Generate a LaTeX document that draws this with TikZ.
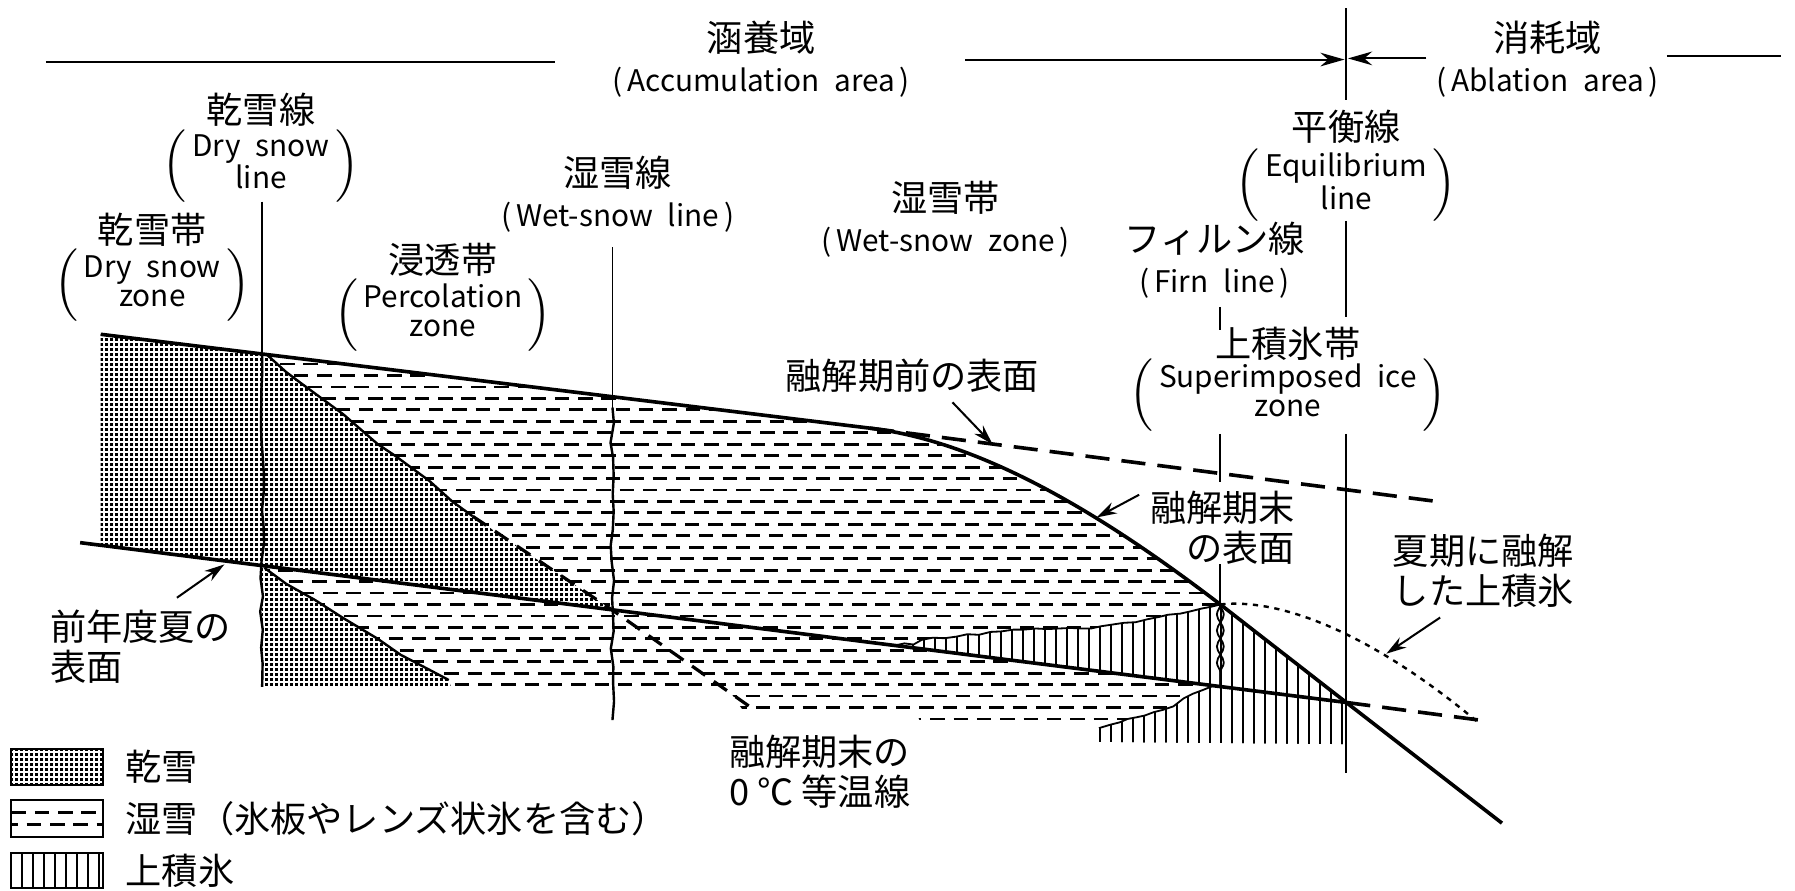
\documentclass[tikz,border=0pt]{standalone}
\usepackage{fontspec}
\setmainfont{Noto Sans CJK JP}
\usetikzlibrary{arrows.meta,patterns,decorations.pathmorphing}

% fine dot grid for dry snow
\pgfdeclarepatternformonly{drysnow}{\pgfqpoint{-0.1pt}{-0.1pt}}{\pgfqpoint{1.35pt}{1.35pt}}{\pgfqpoint{1.2427pt}{1.2427pt}}%
{\pgfpathrectangle{\pgfpointorigin}{\pgfqpoint{0.68pt}{0.68pt}}\pgfusepath{fill}}
% vertical rules for superimposed ice
\pgfdeclarepatternformonly{superice}{\pgfqpoint{-0.5pt}{-0.5pt}}{\pgfqpoint{0.5pt}{1.5pt}}{\pgfqpoint{2.733pt}{1pt}}%
{\pgfsetlinewidth{0.5pt}\pgfpathmoveto{\pgfqpoint{0pt}{-0.5pt}}\pgfpathlineto{\pgfqpoint{0pt}{1.5pt}}\pgfusepath{stroke}}

\newcommand{\en}[1]{{\fontsize{7.4}{9}\selectfont #1}}
\newcommand{\parenblock}[2]{{\fontsize{7.4}{9}\selectfont$\left(\,\begin{tabular}{@{}c@{}}#1\\#2\end{tabular}\,\right)$}}
\renewcommand{\arraystretch}{0.8}

\tikzset{
  lbl/.style={font=\fontsize{9}{10}\selectfont, inner sep=0pt, align=center},
  surface/.style={line width=0.9pt},
  zoneline/.style={line width=0.45pt},
  rough/.style={line width=0.6pt},
  oldsurf/.style={line width=0.9pt, dash pattern=on 6pt off 3pt},
  isotherm/.style={line width=0.8pt, dash pattern=on 4pt off 2.6pt},
  meltedice/.style={line width=0.6pt, dash pattern=on 1.3pt off 1.4pt},
  wetrow/.style={line width=0.7pt, dash pattern=on 3.6pt off 2.2pt},
  callout/.style={line width=0.5pt, -{Stealth[length=5pt,width=3pt]}},
  areaarrow/.style={line width=0.5pt, -{Stealth[length=6pt,width=3.4pt]}},
  keybox/.style={line width=0.5pt},
}

\begin{document}
\begin{tikzpicture}[x=1cm,y=-1cm]
\useasboundingbox (0,0) rectangle (15.68,7.78);
\pgfmathsetseed{11}

% points on the surfaces
\coordinate (s0) at (0.88,2.92);
\coordinate (sbend) at (7.60,3.74);
\coordinate (firnpt) at (10.66,5.28);
\coordinate (eqpt) at (11.76,6.136);
\coordinate (send) at (13.12,7.19);
\coordinate (b0) at (0.70,4.74);
\coordinate (bend) at (13.00,6.30);

% dry snow
\fill[pattern=drysnow] (s0) -- (2.33,3.097) -- (2.50,3.25) -- (2.62,3.34) -- (3.00,3.62) -- (3.30,3.88) -- (3.45,3.98) -- (3.75,4.20) -- (3.95,4.38) -- (4.13,4.51) -- (5.35,5.33) -- (0.88,4.763) -- cycle;
\fill[pattern=drysnow] (2.29,4.94) -- (2.31,4.96) -- (2.50,5.10) -- (2.75,5.24) -- (3.00,5.40) -- (3.30,5.58) -- (3.50,5.72) -- (3.75,5.85) -- (3.92,5.94) -- (3.94,6.00) -- (2.29,6.00) -- cycle;

% wet snow, this year
\begin{scope}
  \clip (2.33,3.097) -- (sbend) .. controls (8.60,3.86) and (9.66,4.515) .. (firnpt) -- (10.66,6.00) -- (5.35,5.33) -- (4.13,4.51) -- (3.95,4.38) -- (3.75,4.20) -- (3.45,3.98) -- (3.30,3.88) -- (3.00,3.62) -- (2.62,3.34) -- (2.50,3.25) -- cycle;
  \foreach \i [evaluate=\i as \ph using {mod(\i*23,57)/10}] in {0,...,34}
    \draw[wetrow, dash phase=\ph pt] (2.2,{2.98+0.1*\i}) -- (10.8,{2.98+0.1*\i});
\end{scope}
% wet snow, last year
\begin{scope}
  \clip (2.29,4.94) -- (10.66,6.00) -- (10.66,6.33) -- (8.05,6.33) -- (8.00,6.22) -- (6.50,6.22) -- (6.35,6.00) -- (3.94,6.00) -- (3.92,5.94) -- (3.75,5.85) -- (3.50,5.72) -- (3.30,5.58) -- (3.00,5.40) -- (2.75,5.24) -- (2.50,5.10) -- (2.31,4.96) -- cycle;
  \foreach \i [evaluate=\i as \ph using {mod(\i*31,57)/10}] in {0,...,34}
    \draw[wetrow, dash phase=\ph pt] (2.2,{2.98+0.1*\i}) -- (10.8,{2.98+0.1*\i});
\end{scope}

% superimposed ice
\path[preaction={fill=white}, pattern=superice, draw, line width=0.45pt] (7.81,5.64) -- (7.90,5.62) -- (7.98,5.63) -- (8.05,5.59) -- (8.15,5.57) -- (8.25,5.575) -- (8.36,5.56) -- (8.45,5.54) -- (8.55,5.545) -- (8.65,5.52) -- (8.75,5.515) -- (8.85,5.50) -- (8.94,5.50) -- (9.05,5.49) -- (9.15,5.495) -- (9.25,5.49) -- (9.35,5.485) -- (9.45,5.49) -- (9.53,5.49) -- (9.62,5.47) -- (9.72,5.455) -- (9.82,5.44) -- (9.92,5.435) -- (10.02,5.41) -- (10.12,5.39) -- (10.20,5.37) -- (10.31,5.36) -- (10.40,5.34) -- (10.50,5.315) -- (10.58,5.30) -- (firnpt) -- (eqpt) -- cycle;
\path[preaction={fill=white}, pattern=superice] (9.60,6.48) -- (9.60,6.36) -- (9.70,6.33) -- (9.78,6.31) -- (9.85,6.28) -- (9.93,6.265) -- (10.00,6.25) -- (10.08,6.22) -- (10.16,6.20) -- (10.25,6.17) -- (10.34,6.10) -- (10.42,6.06) -- (10.50,6.03) -- (10.60,5.99) -- (eqpt) -- (11.76,6.50) -- cycle;
\draw[zoneline] (9.60,6.36) -- (9.70,6.33) -- (9.78,6.31) -- (9.85,6.28) -- (9.93,6.265) -- (10.00,6.25) -- (10.08,6.22) -- (10.16,6.20) -- (10.25,6.17) -- (10.34,6.10) -- (10.42,6.06) -- (10.50,6.03) -- (10.60,5.99);

% isotherm and old dry snow boundary
\draw[rough] (2.33,3.097) -- (2.50,3.25) -- (2.62,3.34) -- (3.00,3.62) -- (3.30,3.88) -- (3.45,3.98) -- (3.75,4.20) -- (3.95,4.38) -- (4.13,4.51);
\draw[isotherm] (4.13,4.51) -- (5.35,5.33) -- (6.56,6.18);
\draw[rough] (2.31,4.96) -- (2.50,5.10) -- (2.75,5.24) -- (3.00,5.40) -- (3.30,5.58) -- (3.50,5.72) -- (3.75,5.85) -- (3.92,5.94);

% surfaces
\draw[surface] (s0) -- (sbend) .. controls (8.60,3.86) and (9.66,4.515) .. (firnpt) -- (eqpt) -- (send);
\draw[oldsurf] (sbend) -- (12.55,4.38);
\draw[surface] (b0) -- (eqpt);
\draw[oldsurf] (eqpt) -- (bend);
\draw[meltedice] (firnpt) .. controls (11.20,5.22) and (12.00,5.55) .. (12.90,6.30);

% zone boundaries
\draw[zoneline] (2.29,1.76) -- (2.29,3.09);
\draw[rough, decorate, decoration={random steps, segment length=1.5mm, amplitude=0.2mm}] (2.29,3.09) -- (2.29,6.00);
\draw[zoneline] (5.35,2.16) -- (5.35,3.56);
\draw[rough, decorate, decoration={random steps, segment length=1.5mm, amplitude=0.2mm}] (5.35,3.56) -- (5.35,6.29);
\draw[zoneline] (10.66,2.68) -- (10.66,2.88);
\draw[zoneline] (10.66,3.79) -- (10.66,4.21);
\draw[zoneline] (10.66,4.93) -- (firnpt);
\draw[zoneline, decorate, decoration={snake, amplitude=0.3mm, segment length=2.8mm}] (firnpt) -- (10.66,6.00);
\draw[zoneline, decorate, decoration={snake, amplitude=0.3mm, segment length=2.8mm, mirror}] (firnpt) -- (10.66,6.00);
\draw[zoneline] (11.76,0.07) -- (11.76,0.87);
\draw[zoneline] (11.76,1.93) -- (11.76,2.77);
\draw[zoneline] (11.76,3.79) -- (11.76,6.75);

% accumulation / ablation
\node[lbl] (acc) at (6.65,0.515) {涵養域\\\en{(\,Accumulation\enspace area\,)}};
\node[lbl] (abl) at (13.52,0.515) {消耗域\\\en{(\,Ablation\enspace area\,)}};
\draw[zoneline] (0.40,0.54) -- (4.85,0.54);
\draw[areaarrow] (8.43,0.52) -- (11.745,0.52);
\draw[areaarrow] (12.46,0.51) -- (11.775,0.51);
\draw[zoneline] (14.56,0.49) -- (15.56,0.49);

% zone labels
\node[lbl] (dryln) at (2.28,0.96) {乾雪線};
\node[lbl] (drylnE) at (2.28,1.45) {\parenblock{Dry\enspace snow}{line}};
\node[lbl] (dryzn) at (1.33,2.01) {乾雪帯};
\node[lbl] (dryznE) at (1.33,2.49) {\parenblock{Dry\enspace snow}{zone}};
\node[lbl] (perc) at (3.87,2.27) {浸透帯};
\node[lbl] (percE) at (3.87,2.75) {\parenblock{Percolation}{zone}};
\node[lbl] (wetln) at (5.395,1.695) {湿雪線\\\en{(\,Wet-snow\enspace line\,)}};
\node[lbl] (wetzn) at (8.26,1.915) {湿雪帯\\\en{(\,Wet-snow\enspace zone\,)}};
\node[lbl] (firn) at (10.61,2.27) {フィルン線\\\en{(\,Firn\enspace line\,)}};
\node[lbl] (eql) at (11.76,1.11) {平衡線};
\node[lbl] (eqlE) at (11.76,1.62) {\parenblock{Equilibrium}{line}};
\node[lbl] (supz) at (11.25,3.00) {上積氷帯};
\node[lbl] (supzE) at (11.25,3.45) {\parenblock{Superimposed\enspace ice}{zone}};

% callouts
\node[lbl] (premelt) at (7.97,3.28) {融解期前の表面};
\node[lbl, anchor=east, align=right] (endmelt) at (11.32,4.61) {融解期末\\の表面};
\node[lbl, anchor=west, align=left] (melted) at (12.16,4.985) {夏期に融解\\した上積氷};
\node[lbl, anchor=west, align=left] (prevsum) at (0.43,5.65) {前年度夏の\\表面};
\node[lbl] (iso) at (7.16,6.74) {融解期末の\\0 ℃ 等温線};
\coordinate (prevtip) at (1.96,4.93);
\coordinate (premtip) at (8.67,3.88);
\coordinate (endtip) at (9.58,4.52);
\coordinate (melttip) at (12.11,5.71);
\draw[callout] ([xshift=-4.8mm,yshift=1mm]prevsum.north east) -- (prevtip);
\draw[callout] ([xshift=3.5mm,yshift=-0.8mm]premelt.south) -- (premtip);
\draw[callout] ([xshift=-0.9mm,yshift=-0.4mm]endmelt.north west) -- (endtip);
\draw[callout] ([xshift=4.2mm,yshift=-0.8mm]melted.south west) -- (melttip);

% key
\draw[keybox, pattern=drysnow] (0.10,6.54) rectangle (0.90,6.86);
\node[lbl, anchor=west] (key1) at (1.09,6.70) {乾雪};
\draw[keybox] (0.10,6.99) rectangle (0.90,7.31);
\draw[wetrow] (0.10,7.10) -- (0.90,7.10);
\draw[wetrow, dash phase=2pt] (0.10,7.20) -- (0.90,7.20);
\node[lbl, anchor=west] (key2) at (1.09,7.15) {湿雪（氷板やレンズ状氷を含む）};
\draw[keybox, pattern=superice] (0.10,7.45) rectangle (0.90,7.76);
\node[lbl, anchor=west] (key3) at (1.09,7.61) {上積氷};
\end{tikzpicture}
\end{document}
